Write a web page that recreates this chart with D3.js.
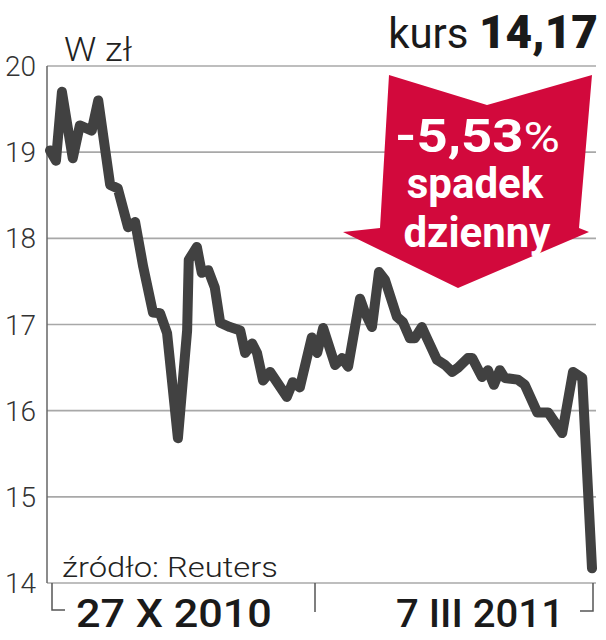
<!DOCTYPE html>
<html>
<head>
<meta charset="utf-8">
<script src="https://cdn.jsdelivr.net/npm/d3@7"></script>
<style>
  body { margin: 0; background: #fff; }
  svg { display: block; }
</style>
</head>
<body>
<div id="chart"></div>
<script>
// Dane (sesja od początku okresu, kurs w zł)
const sesje = [0, 1.1, 2.2, 4.2, 5.5, 7.7, 8.9, 11.1, 12.5, 14.4,
  15.7, 17.2, 19.0, 20.3, 21.6, 23.6, 25.3, 25.6, 27.1, 28.0,
  29.2, 30.4, 31.4, 33.2, 35.1, 36.0, 37.3, 38.2, 39.3, 40.6,
  43.7, 44.8, 46.1, 48.3, 49.3, 50.4, 52.6, 53.9, 55.0, 57.2,
  58.1, 59.4, 60.7, 61.8, 64.0, 65.1, 66.4, 67.3, 68.6, 69.7,
  71.4, 72.9, 74.2, 75.3, 77.1, 77.9, 79.7, 80.8, 81.9, 83.0,
  83.9, 86.3, 87.6, 89.9, 91.9, 94.5, 96.5, 98.2, 100];
const kurs = [19.02, 18.9, 19.7, 18.93, 19.31, 19.25, 19.6, 18.62, 18.58, 18.13,
  18.19, 17.67, 17.14, 17.13, 16.9, 15.68, 16.93, 17.75, 17.9, 17.6,
  17.63, 17.43, 17.02, 16.97, 16.93, 16.67, 16.78, 16.67, 16.35, 16.45,
  16.16, 16.33, 16.27, 16.85, 16.67, 16.96, 16.53, 16.61, 16.51, 17.3,
  17.14, 16.97, 17.61, 17.52, 17.09, 17.03, 16.84, 16.84, 16.97, 16.82,
  16.59, 16.53, 16.45, 16.5, 16.61, 16.61, 16.39, 16.47, 16.3, 16.47,
  16.38, 16.36, 16.3, 15.98, 15.98, 15.74, 16.45, 16.38, 14.17];
const yTicks = [14, 15, 16, 17, 18, 19, 20];
const dateLabels = ["27 X 2010", "7 III 2011"];
const kursText = "14,17";
const zmiana = "-5,53";

const W = 606, H = 640;
const svg = d3.select("#chart").append("svg")
  .attr("width", W).attr("height", H);

const x = d3.scaleLinear().domain([0, 100]).range([50, 592]);
const y = d3.scaleLinear().domain([14, 20]).range([583, 66]);

// rozciąga tekst w poziomie do zadanej szerokości (fonty w oryginale są szersze)
function fit(t, left, base, width) {
  const w = t.node().getComputedTextLength();
  t.attr("x", 0).attr("y", 0)
    .attr("transform", `translate(${left},${base}) scale(${width / w},1)`);
}

// Linie siatki
svg.append("g")
  .selectAll("line")
  .data(yTicks)
  .enter().append("line")
  .attr("x1", 47).attr("x2", 596)
  .attr("y1", d => y(d)).attr("y2", d => y(d))
  .attr("stroke", "#a8a8a8").attr("stroke-width", 1.6);

// Oś pionowa
svg.append("line")
  .attr("x1", 47).attr("x2", 47)
  .attr("y1", y(20)).attr("y2", y(14))
  .attr("stroke", "#666").attr("stroke-width", 1.5);

// Etykiety osi Y
svg.append("g")
  .selectAll("text")
  .data(yTicks)
  .enter().append("text")
  .attr("x", 36).attr("y", d => y(d) + 10)
  .attr("text-anchor", "end")
  .style("font-family", "Roboto").style("font-weight", 300)
  .style("font-size", "28px").style("fill", "#333")
  .text(d => d);

const wzl = svg.append("text")
  .style("font-family", "Roboto").style("font-weight", 300)
  .style("font-size", "33px").style("fill", "#222")
  .text("W zł");
fit(wzl, 64, 61, 68);

// Klamry osi X
const tickColor = "#555";
svg.append("path")
  .attr("d", `M52,${y(14)}V610H65`)
  .attr("fill", "none").attr("stroke", tickColor).attr("stroke-width", 1.5);
svg.append("path")
  .attr("d", `M593,${y(14)}V611H580`)
  .attr("fill", "none").attr("stroke", tickColor).attr("stroke-width", 1.5);
svg.append("line")
  .attr("x1", 315).attr("x2", 315).attr("y1", y(14)).attr("y2", 612)
  .attr("stroke", tickColor).attr("stroke-width", 1.5);

const d0 = svg.append("text")
  .style("font-family", "Roboto").style("font-weight", 500)
  .style("font-size", "39px").style("fill", "#1a1a1a")
  .text(dateLabels[0]);
fit(d0, 76, 627, 196);
const d1 = svg.append("text")
  .style("font-family", "Roboto").style("font-weight", 500)
  .style("font-size", "39px").style("fill", "#1a1a1a")
  .text(dateLabels[1]);
fit(d1, 396, 627, 168);

const src = svg.append("text")
  .style("font-family", "Roboto").style("font-weight", 300)
  .style("font-size", "27px").style("fill", "#222")
  .text("źródło: Reuters");
fit(src, 62, 577, 216);

// Linia kursu
const line = d3.line()
  .x((d, i) => x(sesje[i]))
  .y(d => y(d));

svg.append("path")
  .datum(kurs)
  .attr("d", line)
  .attr("fill", "none")
  .attr("stroke", "#414141")
  .attr("stroke-width", 10)
  .attr("stroke-linejoin", "round")
  .attr("stroke-linecap", "round");

// Nagłówek kursu
const head = svg.append("text")
  .attr("x", 598).attr("y", 48)
  .attr("text-anchor", "end")
  .style("font-family", "Roboto").style("fill", "#1a1a1a");
head.append("tspan").style("font-weight", 400).style("font-size", "42px").text("kurs ");
head.append("tspan").style("font-weight", 900).style("font-size", "46px").text(kursText);

// Czerwona strzałka
const arrow = [[389, 75], [487, 105], [592, 75], [579, 228], [589, 232],
  [458, 288], [343, 232], [380, 228]];
svg.append("path")
  .attr("d", "M" + arrow.map(p => p.join(",")).join("L") + "Z")
  .attr("fill", "#d2093c");

const pct = svg.append("text")
  .style("font-family", "Roboto").style("fill", "#fff");
pct.append("tspan").style("font-weight", 700).style("font-size", "46px").text(zmiana);
pct.append("tspan").style("font-weight", 400).style("font-size", "42px").text("%");
fit(pct, 395, 152, 165);

svg.append("text")
  .attr("x", 475).attr("y", 198)
  .attr("text-anchor", "middle")
  .style("font-family", "Roboto").style("font-weight", 700)
  .style("font-size", "42px").style("fill", "#fff")
  .text("spadek");
svg.append("text")
  .attr("x", 477).attr("y", 247)
  .attr("text-anchor", "middle")
  .style("font-family", "Roboto").style("font-weight", 700)
  .style("font-size", "42px").style("fill", "#fff")
  .text("dzienny");
</script>
</body>
</html>
